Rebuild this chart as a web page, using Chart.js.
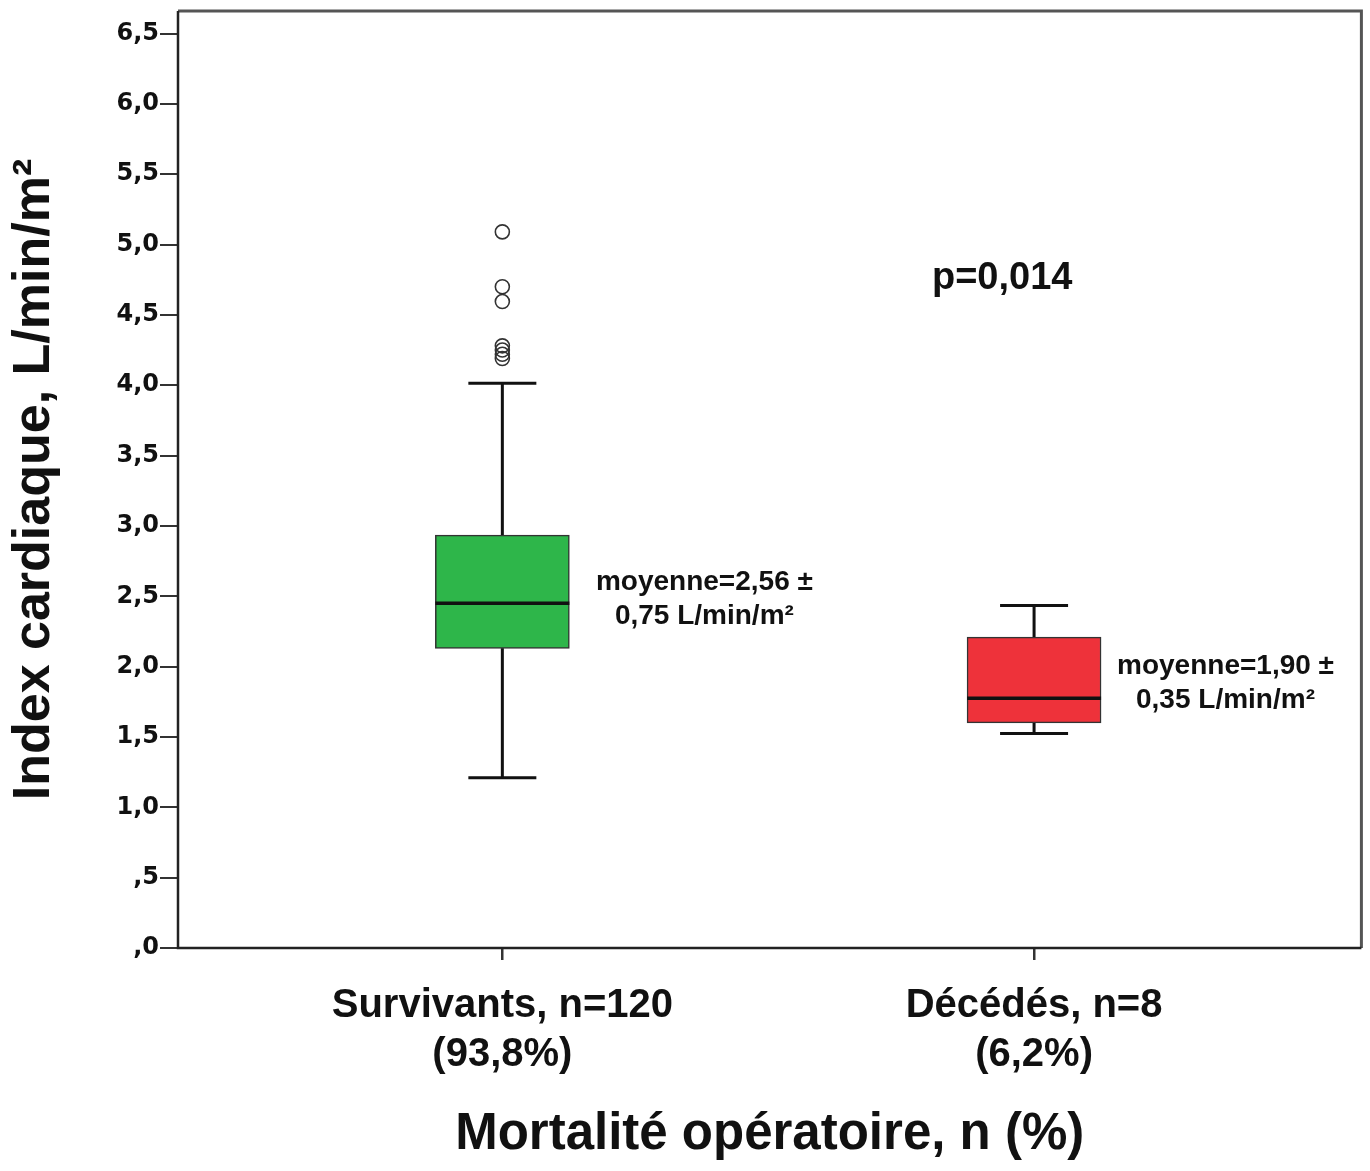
<!DOCTYPE html>
<html><head><meta charset="utf-8">
<script src="https://cdn.jsdelivr.net/npm/chart.js@4"></script>
<style>html,body{margin:0;padding:0;background:#fff}canvas{display:block}</style>
</head><body>
<canvas id="c" width="1370" height="1171"></canvas>
<script>
// ---- data ----
const categories = [["Survivants, n=120", "(93,8%)"], ["Décédés, n=8", "(6,2%)"]];
const categoryPositions = [1, 2];
const boxQ1 = [2.13, 1.60];
const boxMedian = [2.45, 1.775];
const boxQ3 = [2.935, 2.21];
const whiskerLow = [1.21, 1.525];
const whiskerHigh = [4.015, 2.435];
const outlierX = [1, 1, 1, 1, 1, 1, 1];
const outlierY = [5.09, 4.70, 4.595, 4.28, 4.25, 4.22, 4.19];
const boxColors = ["#2eb64a", "#ee323a"];
const meanLabels = [["moyenne=2,56 ±", "0,75 L/min/m²"], ["moyenne=1,90 ±", "0,35 L/min/m²"]];
const pValueLabel = "p=0,014";
const yTickValues = [0, 0.5, 1, 1.5, 2, 2.5, 3, 3.5, 4, 4.5, 5, 5.5, 6, 6.5];
const yTickLabels = [",0", ",5", "1,0", "1,5", "2,0", "2,5", "3,0", "3,5", "4,0", "4,5", "5,0", "5,5", "6,0", "6,5"];
const yTitle = "Index cardiaque, L/min/m²";
const xTitle = "Mortalité opératoire, n (%)";

const SANS = '"Liberation Sans", Arial, sans-serif';

const boxPlugin = {
  id: 'boxExtras',
  afterDatasetsDraw(chart, args, opts) {
    const ctx = chart.ctx;
    const xs = chart.scales.x, ys = chart.scales.y;
    ctx.save();
    categoryPositions.forEach((c, i) => {
      const cx = xs.getPixelForValue(c);
      const half = opts.boxWidth / 2;
      const cap = opts.capWidth / 2;
      ctx.strokeStyle = '#111';
      ctx.lineWidth = 3;
      ctx.lineCap = 'butt';
      ctx.beginPath();
      ctx.moveTo(cx, ys.getPixelForValue(boxQ3[i]));
      ctx.lineTo(cx, ys.getPixelForValue(whiskerHigh[i]));
      ctx.moveTo(cx, ys.getPixelForValue(boxQ1[i]));
      ctx.lineTo(cx, ys.getPixelForValue(whiskerLow[i]));
      ctx.moveTo(cx - cap, ys.getPixelForValue(whiskerHigh[i]));
      ctx.lineTo(cx + cap, ys.getPixelForValue(whiskerHigh[i]));
      ctx.moveTo(cx - cap, ys.getPixelForValue(whiskerLow[i]));
      ctx.lineTo(cx + cap, ys.getPixelForValue(whiskerLow[i]));
      ctx.stroke();
      ctx.beginPath();
      ctx.lineWidth = 3.5;
      ctx.moveTo(cx - half, ys.getPixelForValue(boxMedian[i]));
      ctx.lineTo(cx + half, ys.getPixelForValue(boxMedian[i]));
      ctx.stroke();
      const a = opts.meanAnchors[i];
      const tx = xs.getPixelForValue(a[0]);
      const ty = ys.getPixelForValue(a[1]);
      ctx.fillStyle = '#111';
      ctx.font = 'bold 28px ' + SANS;
      ctx.textAlign = 'center';
      ctx.textBaseline = 'middle';
      const lines = meanLabels[i];
      lines.forEach((t, k) => {
        ctx.fillText(t, tx, ty + (k - (lines.length - 1) / 2) * opts.meanLineGap);
      });
    });
    ctx.font = 'bold 38px ' + SANS;
    ctx.textAlign = 'center';
    ctx.textBaseline = 'middle';
    ctx.fillText(pValueLabel, xs.getPixelForValue(opts.pAnchor[0]), ys.getPixelForValue(opts.pAnchor[1]));
    ctx.restore();
  },
  afterDraw(chart) {
    const {left, top, right, bottom} = chart.chartArea;
    const ctx = chart.ctx;
    ctx.save();
    ctx.strokeStyle = '#555';
    ctx.lineWidth = 3;
    ctx.beginPath();
    ctx.moveTo(left, top);
    ctx.lineTo(right, top);
    ctx.lineTo(right, bottom);
    ctx.stroke();
    ctx.strokeStyle = '#222';
    ctx.lineWidth = 2.5;
    ctx.beginPath();
    ctx.moveTo(left, top);
    ctx.lineTo(left, bottom);
    ctx.lineTo(right, bottom);
    ctx.stroke();
    ctx.restore();
  }
};

new Chart(document.getElementById('c'), {
  type: 'bar',
  data: {
    datasets: [
      {
        type: 'bar',
        data: categoryPositions.map((c, i) => ({x: c, y: [boxQ1[i], boxQ3[i]]})),
        backgroundColor: boxColors,
        borderColor: '#333',
        borderWidth: 1.5,
        borderSkipped: false,
        barThickness: 134,
        order: 2
      },
      {
        type: 'scatter',
        data: outlierX.map((x, i) => ({x: x, y: outlierY[i]})),
        pointRadius: 7,
        pointBorderWidth: 1.6,
        pointBorderColor: '#333',
        pointBackgroundColor: 'rgba(255,255,255,0)',
        showLine: false,
        order: 1
      }
    ]
  },
  options: {
    responsive: false,
    animation: false,
    devicePixelRatio: 1,
    layout: {padding: {top: 11, right: 8, left: 0, bottom: 0}},
    plugins: {
      legend: {display: false},
      tooltip: {enabled: false},
      boxExtras: {
        boxWidth: 134,
        capWidth: 68,
        meanAnchors: [[1.38, 2.48], [2.36, 1.885]],
        meanLineGap: 34,
        pAnchor: [1.94, 4.76]
      }
    },
    scales: {
      x: {
        type: 'linear',
        offset: false,
        min: 0.39,
        max: 2.6156,
        afterBuildTicks(scale) { scale.ticks = categoryPositions.map(v => ({value: v})); },
        afterFit(scale) { scale.height = 1171 - 948; scale.paddingLeft = 0; scale.paddingRight = 0; },
        ticks: {
          callback(v) { const i = categoryPositions.indexOf(v); return i >= 0 ? categories[i] : ''; },
          color: '#111',
          font: {family: SANS, size: 40, weight: 'bold', lineHeight: 1.22},
          padding: 22,
          maxRotation: 0,
          autoSkip: false
        },
        grid: {offset: false, drawOnChartArea: false, drawTicks: true, tickLength: 12, color: '#333', lineWidth: 2.5},
        border: {display: false},
        title: {
          display: true,
          text: xTitle,
          color: '#111',
          font: {family: SANS, size: 51, weight: 'bold', lineHeight: 1.2},
          padding: {top: 0, bottom: 5}
        }
      },
      y: {
        type: 'linear',
        min: 0,
        max: 6.66,
        afterBuildTicks(scale) { scale.ticks = yTickValues.map(v => ({value: v})); },
        afterFit(scale) { scale.width = 178; scale.paddingTop = 0; scale.paddingBottom = 0; },
        ticks: {
          callback(v) { const i = yTickValues.indexOf(v); return i >= 0 ? yTickLabels[i] : ''; },
          color: '#111',
          font: {family: '"DejaVu Sans", Verdana, sans-serif', size: 24, weight: 'bold'},
          padding: 1,
          autoSkip: false
        },
        grid: {drawOnChartArea: false, drawTicks: true, tickLength: 18, color: '#333', lineWidth: 2},
        border: {display: false},
        title: {
          display: true,
          text: yTitle,
          color: '#111',
          font: {family: SANS, size: 52, weight: 'bold', lineHeight: 1.2},
          padding: {top: 3, bottom: 0}
        }
      }
    }
  },
  plugins: [boxPlugin]
});
</script>
</body></html>
